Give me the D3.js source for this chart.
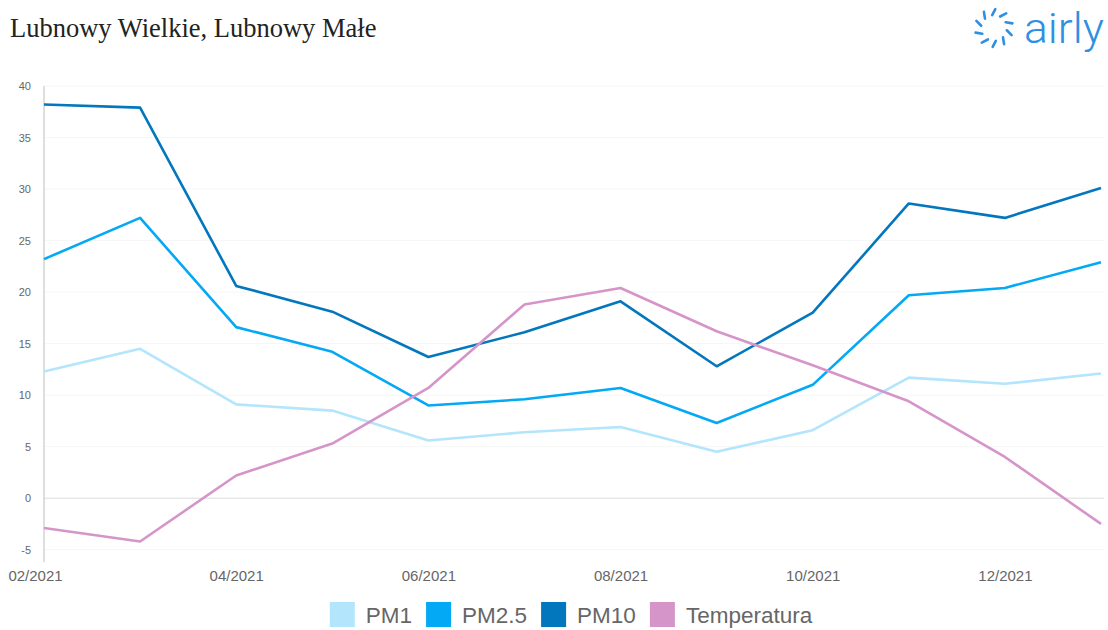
<!DOCTYPE html>
<html>
<head>
<meta charset="utf-8">
<script src="https://cdn.jsdelivr.net/npm/d3@7"></script>
<style>
  html, body { margin: 0; padding: 0; background: #fff; }
  svg { display: block; }
</style>
</head>
<body>
<svg id="chart" width="1108" height="630"></svg>
<script>
// Monthly averages, 02/2021 – 01/2022
const months = ["02/2021","03/2021","04/2021","05/2021","06/2021","07/2021",
                "08/2021","09/2021","10/2021","11/2021","12/2021","01/2022"];
const tickLabels = ["02/2021","04/2021","06/2021","08/2021","10/2021","12/2021"];
const yTicks = [-5, 0, 5, 10, 15, 20, 25, 30, 35, 40];

const pm1   = [12.3, 14.5, 9.1, 8.5, 5.6, 6.4, 6.9, 4.5, 6.6, 11.7, 11.1, 12.1];
const pm25  = [23.2, 27.2, 16.6, 14.2, 9.0, 9.6, 10.7, 7.3, 11.0, 19.7, 20.4, 22.9];
const pm10  = [38.2, 37.9, 20.6, 18.1, 13.7, 16.1, 19.1, 12.8, 18.0, 28.6, 27.2, 30.1];
const temp  = [-2.9, -4.2, 2.2, 5.3, 10.7, 18.8, 20.4, 16.2, 12.9, 9.4, 4.0, -2.5];

const seriesNames  = ["PM1", "PM2.5", "PM10", "Temperatura"];
const seriesColors = ["#b3e5fc", "#03a9f4", "#0277bd", "#d595c9"];
const seriesValues = [pm1, pm25, pm10, temp];

const svg = d3.select("#chart");

// Title
svg.append("text")
  .attr("x", 10).attr("y", 37)
  .attr("font-family", "'Liberation Serif', 'Times New Roman', serif")
  .attr("font-size", 26.5)
  .attr("fill", "#222")
  .text("Lubnowy Wielkie, Lubnowy Małe");

// Brand mark: dashed ring + wordmark
const logo = svg.append("g").attr("transform", "translate(994,28)");
const dashAngles = d3.range(10).map(i => i * 36 + 10);
logo.selectAll("line.dash")
  .data(dashAngles)
  .join("line")
  .attr("x1", a => 13 * Math.cos(a * Math.PI / 180))
  .attr("y1", a => 13 * Math.sin(a * Math.PI / 180))
  .attr("x2", a => 19 * Math.cos((a + 12) * Math.PI / 180))
  .attr("y2", a => 19 * Math.sin((a + 12) * Math.PI / 180))
  .attr("stroke", "#2f8fe3")
  .attr("stroke-width", 2.6)
  .attr("stroke-linecap", "round");
svg.append("text")
  .attr("x", 1024).attr("y", 43)
  .attr("font-family", "Roboto, 'Open Sans', sans-serif")
  .attr("font-weight", 300)
  .attr("font-size", 42)
  .attr("fill", "#2f8fe3")
  .attr("textLength", 80)
  .attr("lengthAdjust", "spacingAndGlyphs")
  .text("airly");

// Scales
const x = d3.scalePoint().domain(months).range([44, 1101]);
const y = d3.scaleLinear().domain([-6, 40]).range([560, 86]);

// Horizontal grid
svg.append("g")
  .selectAll("line")
  .data(yTicks)
  .join("line")
  .attr("x1", 44).attr("x2", 1104)
  .attr("y1", d => y(d)).attr("y2", d => y(d))
  .attr("stroke", d => d === 0 ? "#dcdcdc" : "#f6f6f6")
  .attr("stroke-width", 1);

// Y axis
const yAxis = svg.append("g")
  .attr("transform", "translate(44,0)")
  .call(d3.axisLeft(y).tickValues(yTicks).tickFormat(d => String(d)).tickSize(0).tickPadding(13));
yAxis.select(".domain").attr("stroke", "#bdbdbd").attr("d", `M0,${y(40)}V${y(-6)+2}`);
yAxis.selectAll("text")
  .attr("font-family", "'Liberation Sans', Arial, sans-serif")
  .attr("font-size", 11)
  .attr("fill", "#666");

// X axis
const xAxis = svg.append("g")
  .attr("transform", `translate(0,${y(-6)})`)
  .call(d3.axisBottom(x).tickValues(tickLabels).tickSize(0).tickPadding(10));
xAxis.select(".domain").remove();
xAxis.selectAll("text")
  .attr("font-family", "'Liberation Sans', Arial, sans-serif")
  .attr("font-size", 15)
  .attr("fill", "#666")
  .attr("dx", (d, i) => i === 0 ? -9 : 0);

// Lines
const line = d3.line()
  .x((d, i) => x(months[i]))
  .y(d => y(d));

svg.append("g")
  .selectAll("path")
  .data(seriesValues)
  .join("path")
  .attr("d", d => line(d))
  .attr("fill", "none")
  .attr("stroke", (d, i) => seriesColors[i])
  .attr("stroke-width", 2.6)
  .attr("stroke-linejoin", "round");

// Legend
const legend = svg.append("g").attr("transform", "translate(0,602)");
const items = legend.selectAll("g")
  .data(seriesNames)
  .join("g");
items.append("rect")
  .attr("width", 25).attr("height", 25)
  .attr("fill", (d, i) => seriesColors[i]);
items.append("text")
  .attr("x", 36).attr("y", 21)
  .attr("font-family", "'Liberation Sans', Arial, sans-serif")
  .attr("font-size", 22.5)
  .attr("fill", "#666")
  .text(d => d);
const widths = [];
items.each(function () {
  widths.push(36 + this.querySelector("text").getComputedTextLength());
});
const gap = 14;
const total = d3.sum(widths) + gap * (widths.length - 1);
let offset = 571 - total / 2;
items.attr("transform", (d, i) => {
  const t = `translate(${offset},0)`;
  offset += widths[i] + gap;
  return t;
});
</script>
</body>
</html>
